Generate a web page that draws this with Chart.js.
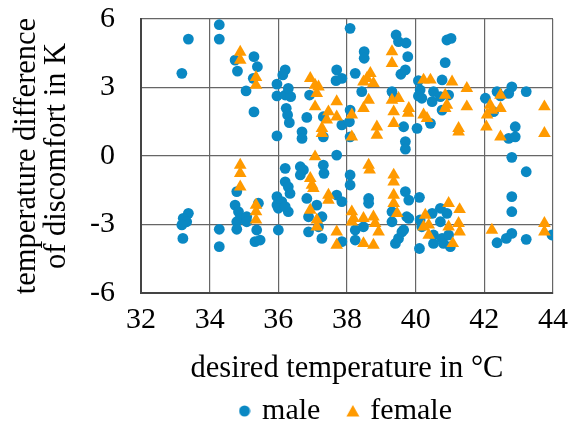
<!DOCTYPE html>
<html><head><meta charset="utf-8">
<script src="https://cdn.jsdelivr.net/npm/chart.js@4/dist/chart.umd.min.js"></script>
<style>html,body{margin:0;padding:0;background:#fff;overflow:hidden}#wrap{width:570px;height:428px}</style>
</head><body><div id="wrap"><canvas id="c" width="570" height="428"></canvas></div>
<script>
const maleX = [34.28,33.38,34.28,34.74,35.29,35.39,34.81,33.19,35.27,35.06,35.96,35.96,35.29,35.96,
38.09,39.43,39.50,39.72,38.50,38.50,36.20,36.13,37.70,37.68,37.85,38.24,38.43,36.20,36.36,36.29,36.23,36.27,36.32,36.83,36.69,36.69,36.91,37.31,37.31,37.85,38.09,38.07,38.09,39.31,39.38,39.65,39.70,39.70,37.70,39.77,39.57,
39.70,40.91,41.03,40.86,40.08,40.77,40.13,40.08,40.18,40.52,40.96,40.48,40.72,40.77,40.43,40.04,42.03,42.37,42.47,42.80,42.71,43.22,42.27,42.90,42.71,42.90,42.80,
33.38,33.23,33.33,33.19,33.22,34.28,34.28,34.79,34.74,34.84,34.89,34.79,35.08,35.08,34.79,35.42,35.32,35.47,35.37,35.96,35.96,36.00,
36.20,36.64,36.73,36.64,37.31,37.33,36.20,36.29,36.34,36.10,36.00,36.29,36.20,36.83,36.88,36.88,37.12,37.27,37.17,37.27,37.70,37.85,38.09,38.09,37.85,38.24,38.24,38.48,38.63,38.63,39.31,39.31,39.65,39.50,39.41,39.74,
43.22,42.80,42.80,42.80,42.64,42.37,43.22,43.97,39.70,39.80,40.11,39.80,39.60,40.13,40.18,40.11,40.48,40.72,40.91,40.72,40.52,40.52,40.77,40.81,41.01,40.96];
const maleY = [5.75,5.12,5.12,4.20,4.35,3.91,3.72,3.62,3.40,2.85,3.15,2.63,1.93,0.88,
5.59,5.30,5.01,4.95,4.57,4.28,3.77,3.55,3.77,3.30,3.40,3.62,2.82,2.67,2.60,2.96,2.09,1.80,1.46,1.69,1.06,0.77,2.67,1.72,0.84,1.36,2.01,1.50,0.84,2.82,2.57,1.28,0.63,0.30,0.04,4.35,3.58,
3.77,5.08,5.15,4.09,3.30,3.33,2.89,2.63,2.53,2.82,2.67,2.38,2.60,2.01,1.43,1.21,2.53,2.82,2.63,3.03,2.74,2.82,1.94,1.28,0.77,0.84,-0.06,
-2.51,-2.73,-2.88,-3.02,-3.61,-3.21,-3.97,-1.56,-2.15,-2.44,-2.73,-2.88,-2.66,-2.88,-3.21,-2.07,-3.75,-3.68,-3.24,-1.78,-2.15,-3.24,
-0.54,-0.47,-0.61,-0.83,-0.40,-0.76,-1.13,-1.35,-1.64,-2.00,-2.29,-2.44,-2.22,-1.86,-2.66,-3.32,-2.15,-2.66,-3.10,-3.61,-1.71,-2.00,-0.83,-1.27,-3.75,-3.24,-3.68,-3.10,-1.86,-2.07,-2.44,-2.88,-3.24,-3.61,-3.83,-2.66,
-0.69,-1.78,-2.44,-3.39,-3.61,-3.80,-3.65,-3.46,-1.56,-1.93,-1.81,-2.73,-3.32,-2.80,-3.10,-4.05,-2.51,-2.29,-2.51,-2.88,-3.46,-3.83,-3.61,-3.83,-3.97,-3.46];
const femaleX = [34.89,34.89,35.35,35.35,
36.93,37.07,37.17,37.12,37.07,37.70,37.46,37.41,37.70,37.27,37.27,38.14,38.14,38.48,38.68,38.58,38.77,38.63,38.48,38.87,38.87,39.31,39.31,39.31,39.50,39.36,39.36,39.78,
40.23,40.43,41.06,41.49,40.86,40.91,40.86,41.49,39.80,40.23,40.33,41.25,41.25,42.47,42.17,42.22,42.08,42.47,42.06,42.47,43.75,43.75,
34.89,34.89,34.89,35.35,35.35,35.35,
37.07,36.93,36.98,37.02,37.46,37.46,36.93,37.12,37.12,37.70,37.70,38.63,38.66,38.14,38.19,38.14,38.48,38.77,38.82,38.92,38.48,38.77,39.36,39.36,39.36,39.36,39.46,
40.96,41.28,40.28,40.23,40.38,40.38,40.96,41.25,41.28,41.08,42.22,43.75,43.75];
const femaleY = [4.55,4.20,3.45,3.10,
3.40,3.11,3.03,2.74,2.16,2.38,1.94,1.58,1.72,1.21,0.99,1.80,0.84,3.25,3.62,3.40,3.18,2.45,2.09,1.28,0.92,4.57,4.06,2.45,2.53,1.94,1.43,1.88,
3.33,3.33,3.25,2.96,2.67,2.23,2.09,2.16,2.09,1.80,1.65,1.21,1.06,2.67,2.23,2.01,1.80,2.09,1.28,0.84,2.16,0.99,
-0.40,-0.76,-1.35,-2.15,-2.44,-2.80,
-0.03,-0.98,-1.27,-1.42,-1.71,-1.93,-2.37,-2.80,-3.10,-3.32,-3.90,-0.40,-0.61,-2.44,-2.73,-2.88,-2.73,-2.66,-2.95,-3.32,-3.83,-3.90,-0.83,-1.13,-1.71,-2.07,-2.51,
-2.07,-2.34,-2.59,-3.10,-3.02,-3.46,-3.10,-2.95,-3.32,-3.83,-3.24,-2.95,-3.32];
const xTickStep = 2, yTickStep = 3;
const xLabel = 'desired temperature in °C';
const yLabel = ['temperature difference', 'of discomfort in K'];
const seriesNames = ['male', 'female'];
const colors = ['#0A88C3', '#FF9A00'];

const toPts = (xs, ys) => xs.map((x, i) => ({x: x, y: ys[i]}));
const FONT = 'Liberation Serif, Times New Roman, serif';

function legendIcon(kind, color) {
  const c = document.createElement('canvas');
  if (kind === 'circle') {
    c.width = 12; c.height = 12;
    const g = c.getContext('2d'); g.fillStyle = color;
    g.beginPath(); g.arc(6, 6, 5.5, 0, Math.PI * 2); g.fill();
  } else {
    c.width = 14; c.height = 14;
    const g = c.getContext('2d'); g.fillStyle = color;
    g.beginPath(); g.moveTo(7, 1); g.lineTo(13.5, 12.5); g.lineTo(0.5, 12.5); g.closePath(); g.fill();
  }
  return c;
}
const icons = [legendIcon('circle', colors[0]), legendIcon('triangle', colors[1])];

new Chart(document.getElementById('c'), {
  type: 'scatter',
  data: {
    datasets: [
      {label: seriesNames[0], data: toPts(maleX, maleY), pointStyle: 'circle', pointRadius: 5.4, pointHoverRadius: 5.4,
       backgroundColor: colors[0], borderColor: colors[0], borderWidth: 0, order: 1},
      {label: seriesNames[1], data: toPts(femaleX, femaleY), pointStyle: 'triangle', pointRadius: 7.3, pointHoverRadius: 7.3,
       backgroundColor: colors[1], borderColor: colors[1], borderWidth: 0, order: 0}
    ]
  },
  options: {
    responsive: false, animation: false,
    layout: {padding: {left: 0, right: 17, top: 19, bottom: -8}},
    plugins: {
      tooltip: {enabled: false},
      legend: {
        position: 'bottom', fullSize: false,
        labels: {usePointStyle: true, boxHeight: 12, boxWidth: 5, padding: 30, color: '#000',
          font: {family: FONT, size: 30},
          sort: (a, b) => a.datasetIndex - b.datasetIndex,
          generateLabels: (chart) => Chart.defaults.plugins.legend.labels.generateLabels(chart)
            .map(l => Object.assign(l, {pointStyle: icons[l.datasetIndex]}))}
      }
    },
    scales: {
      x: {
        type: 'linear', min: 32, max: 44,
        afterFit: (s) => { s.height = 73; s.paddingLeft = 0; s.paddingRight = 0; },
        ticks: {stepSize: xTickStep, color: '#000', font: {family: FONT, size: 30}, padding: 9},
        grid: {color: '#666', lineWidth: 1.2, drawTicks: false},
        border: {color: '#444', width: 2},
        title: {display: true, text: xLabel, color: '#000', font: {family: FONT, size: 30.5, lineHeight: 1.0}, padding: {top: 0, bottom: -18}}
      },
      y: {
        type: 'linear', min: -6, max: 6,
        afterFit: (s) => { s.width = 141; s.paddingTop = 0; s.paddingBottom = 0; },
        ticks: {stepSize: yTickStep, color: '#000', font: {family: FONT, size: 30}, padding: 26},
        grid: {color: '#666', lineWidth: 1.2, drawTicks: false},
        border: {color: '#444', width: 2},
        title: {display: true, text: yLabel, color: '#000', font: {family: FONT, size: 30.5, lineHeight: 0.98}, padding: {top: 12, bottom: 0}}
      }
    }
  }
});
</script></body></html>
